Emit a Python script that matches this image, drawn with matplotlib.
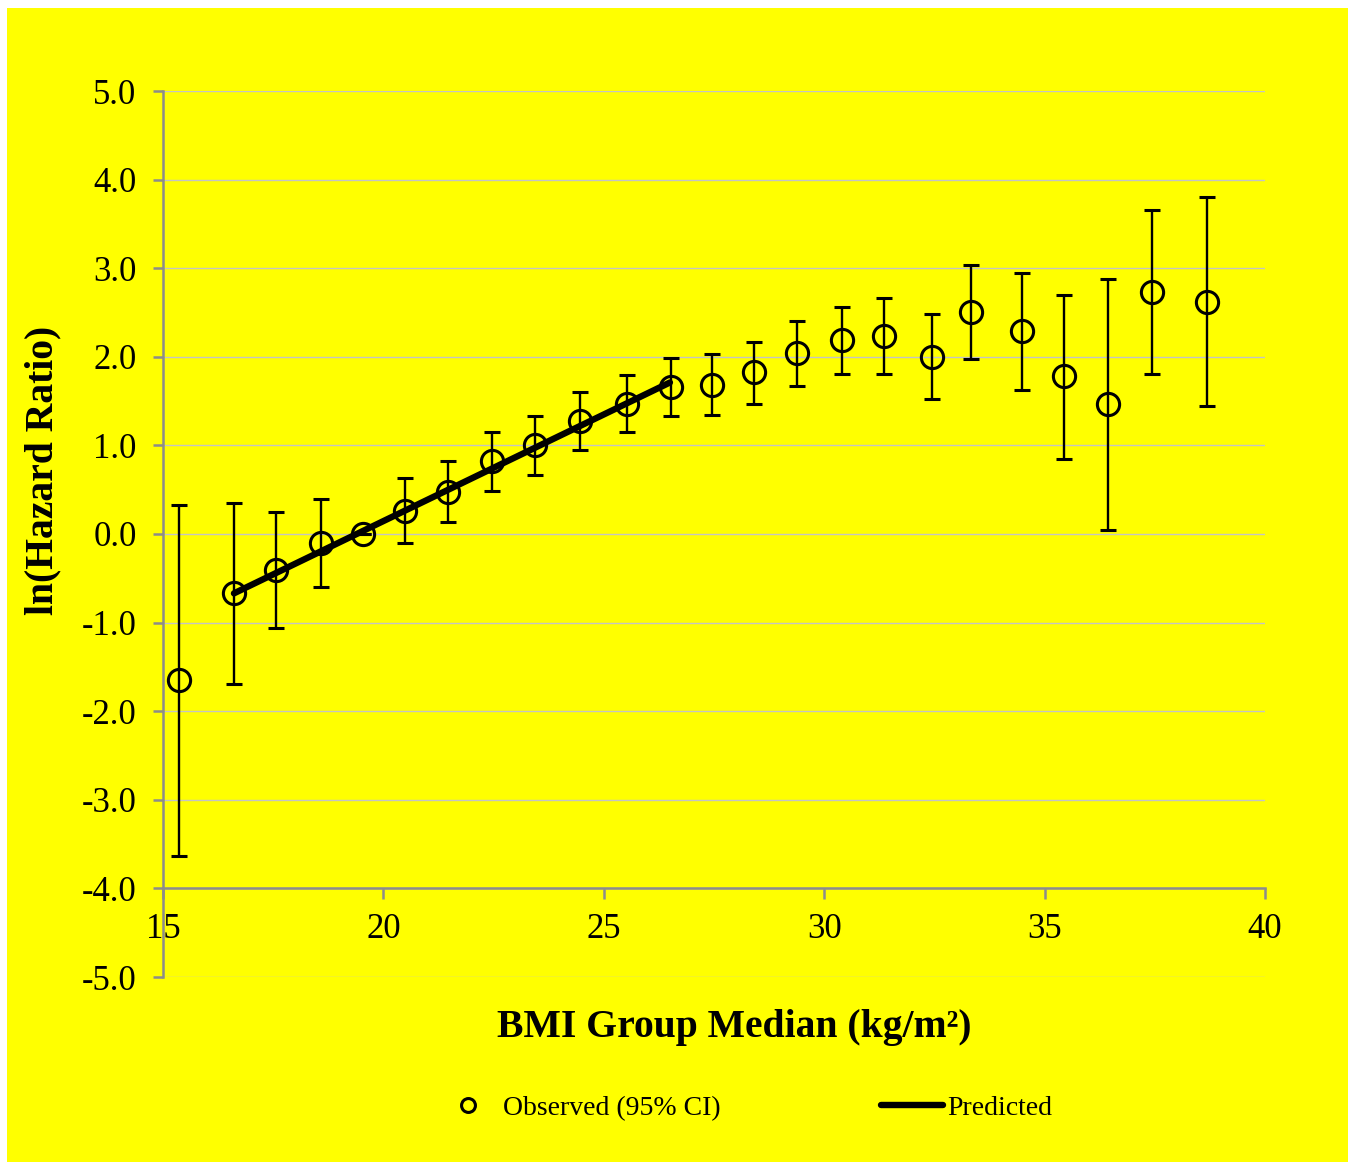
import matplotlib

matplotlib.use('Agg')
import matplotlib.pyplot as plt
from matplotlib.lines import Line2D
from matplotlib.patches import Rectangle

# BMI group medians and observed ln(HR) with 95% CI
bmi = [15.36, 16.61, 17.56, 18.58, 19.54, 20.49, 21.47, 22.46, 23.44, 24.46, 25.53, 26.52,
       27.45, 28.41, 29.38, 30.40, 31.36, 32.45, 33.33, 34.49, 35.44, 36.44, 37.44, 38.68]
ln_hr = [-1.65, -0.67, -0.41, -0.10, 0.00, 0.26, 0.47, 0.82, 1.00, 1.27, 1.47, 1.66,
         1.68, 1.83, 2.04, 2.19, 2.24, 2.00, 2.51, 2.29, 1.78, 1.47, 2.73, 2.62]
ci_low = [-3.63, -1.69, -1.06, -0.60, 0.00, -0.10, 0.13, 0.48, 0.67, 0.95, 1.15, 1.33,
          1.34, 1.47, 1.67, 1.81, 1.81, 1.52, 1.98, 1.63, 0.85, 0.05, 1.81, 1.45]
ci_high = [0.33, 0.35, 0.25, 0.40, 0.00, 0.63, 0.82, 1.15, 1.33, 1.60, 1.79, 1.99,
           2.03, 2.17, 2.40, 2.56, 2.66, 2.48, 3.04, 2.95, 2.70, 2.88, 3.66, 3.80]

# predicted (linear fit) segment
pred_bmi = [16.61, 26.50]
pred_ln_hr = [-0.67, 1.71]

y_ticks = [-5, -4, -3, -2, -1, 0, 1, 2, 3, 4, 5]
x_ticks = [15, 20, 25, 30, 35, 40]

plt.rcParams['font.family'] = ['Liberation Serif', 'DejaVu Serif']

fig = plt.figure(figsize=(13.55, 11.63), dpi=100)
fig.patch.set_facecolor('white')
fig.patches.append(Rectangle((7 / 1355, 1 - 1162 / 1163), 1341 / 1355, 1154 / 1163,
                             transform=fig.transFigure, facecolor='#ffff00',
                             edgecolor='none', zorder=-10))

ax = fig.add_axes([163 / 1355, 1 - 977 / 1163, 1102 / 1355, 886 / 1163])
ax.set_facecolor('none')

err_lo = [v - lo for v, lo in zip(ln_hr, ci_low)]
err_hi = [hi - v for v, hi in zip(ln_hr, ci_high)]
ax.errorbar(bmi, ln_hr, yerr=[err_lo, err_hi], fmt='o', mfc='none', mec='black',
            ms=16, mew=2.2, ecolor='black', elinewidth=1.7, capsize=5.8, capthick=1.7,
            zorder=3)
ax.plot(pred_bmi, pred_ln_hr, color='black', lw=4.6, solid_capstyle='round', zorder=4)

ax.set_xlim(15, 40)
ax.set_ylim(-5, 5)
ax.set_xticks(x_ticks)
ax.set_yticks(y_ticks)
ax.set_yticklabels([f'{v:.1f}' for v in y_ticks])
ax.yaxis.grid(True, color='#c4c4c4', lw=1.0)
ax.set_axisbelow(True)

for s in ['top', 'right']:
    ax.spines[s].set_visible(False)
ax.spines['bottom'].set_position(('data', -4))
for s in ['left', 'bottom']:
    ax.spines[s].set_color('#8c8c8c')
    ax.spines[s].set_linewidth(1.8)

ax.tick_params(axis='both', colors='#8c8c8c', width=1.8, labelcolor='black', labelsize=25)
ax.tick_params(axis='x', length=8, pad=10)
ax.tick_params(axis='y', length=7, pad=12)

ax.set_xlabel('BMI Group Median (kg/m²)', fontsize=28.5, fontweight='bold')
ax.xaxis.set_label_coords(0.518, -0.036)
ax.set_ylabel('ln(Hazard Ratio)', fontsize=28.5, fontweight='bold')
ax.yaxis.set_label_coords(-0.092, 0.572)

handles = [
    Line2D([], [], ls='none', marker='o', ms=10, mfc='none', mec='black', mew=2.2),
    Line2D([], [], color='black', lw=4.6, solid_capstyle='round'),
]
fig.legend(handles, ['Observed (95% CI)', 'Predicted'], loc='center',
           bbox_to_anchor=(0.5495, 1 - 1108 / 1163), ncol=2, frameon=False,
           fontsize=20, handlelength=2.2, handletextpad=0.15, columnspacing=5.8)

fig.savefig('out.png', dpi=100, facecolor=fig.get_facecolor())
